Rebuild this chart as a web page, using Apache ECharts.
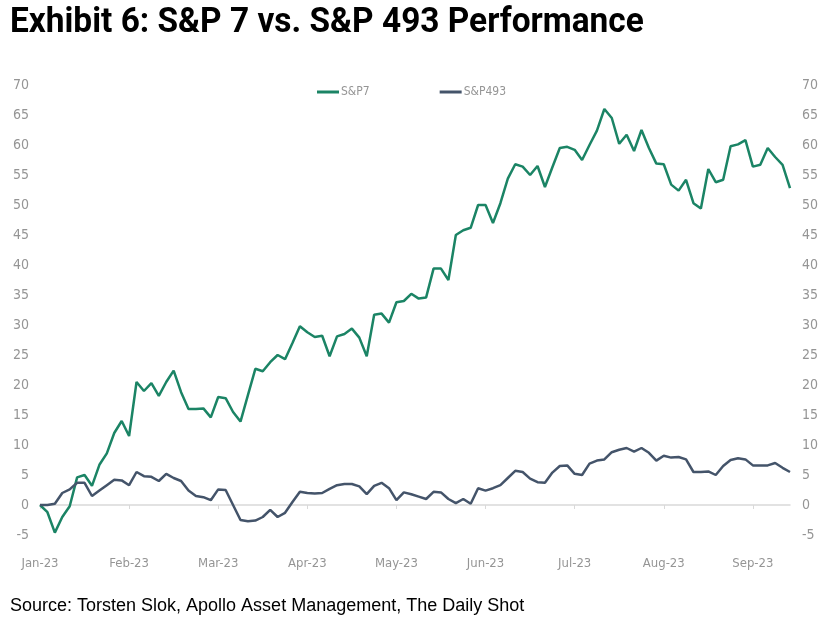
<!DOCTYPE html>
<html>
<head>
<meta charset="utf-8">
<script src="https://cdn.jsdelivr.net/npm/echarts@6/dist/echarts.min.js"></script>
<style>
   html, body { margin: 0; padding: 0; background: #fff; }
   #chartWrapper { width: 829px; height: 619px; }
</style>
</head>
<body>
<div id="chartWrapper"></div>
<script>
// month tick labels, one every 12 sample points
var months = ['Jan-23', 'Feb-23', 'Mar-23', 'Apr-23', 'May-23', 'Jun-23', 'Jul-23', 'Aug-23', 'Sep-23'];
var perMonth = 12;

// cumulative performance (%)
var sp7 = [
   0, -1.2, -4.6, -2.0, -0.2, 4.6, 5.0, 3.2, 6.7, 8.6,
   12.0, 14.0, 11.5, 20.5, 19.0, 20.3, 18.2, 20.5, 22.4, 18.8,
   16.0, 16.0, 16.1, 14.6, 18.0, 17.8, 15.5, 13.9, 18.3, 22.7,
   22.3, 23.8, 25.0, 24.3, 27.0, 29.8, 28.8, 28.0, 28.2, 24.8,
   28.1, 28.5, 29.4, 27.9, 24.8, 31.7, 31.9, 30.4, 33.8, 34.0,
   35.2, 34.4, 34.6, 39.4, 39.4, 37.5, 45.0, 45.8, 46.2, 50.0,
   50.0, 47.0, 50.3, 54.4, 56.8, 56.4, 55.0, 56.5, 53.0, 56.3,
   59.5, 59.7, 59.2, 57.5, 60.0, 62.4, 66.0, 64.5, 60.2, 61.7,
   59.0, 62.5, 59.5, 56.9, 56.8, 53.4, 52.4, 54.2, 50.3, 49.4,
   56.0, 53.8, 54.2, 59.8, 60.1, 60.8, 56.4, 56.7, 59.5, 58.0,
   56.7, 52.8
];
var sp493 = [
   0, 0, 0.2, 2.0, 2.6, 3.7, 3.7, 1.5, 2.4, 3.3,
   4.2, 4.1, 3.3, 5.5, 4.8, 4.7, 4.0, 5.2, 4.5, 4.0,
   2.4, 1.5, 1.3, 0.8, 2.6, 2.5, 0, -2.5, -2.7, -2.6,
   -2.0, -0.8, -2.0, -1.3, 0.5, 2.2, 2.0, 1.9, 2.0, 2.7,
   3.3, 3.5, 3.5, 3.1, 1.8, 3.2, 3.7, 2.8, 0.8, 2.1,
   1.8, 1.4, 1.0, 2.2, 2.1, 1.0, 0.3, 1.0, 0.2, 2.8,
   2.4, 2.8, 3.3, 4.5, 5.7, 5.5, 4.4, 3.8, 3.7, 5.4,
   6.5, 6.6, 5.2, 5.0, 6.9, 7.4, 7.6, 8.8, 9.2, 9.5,
   8.9, 9.5, 8.7, 7.4, 8.2, 7.9, 8.0, 7.6, 5.5, 5.5,
   5.6, 5.0, 6.5, 7.5, 7.8, 7.6, 6.6, 6.6, 6.6, 7.0,
   6.2, 5.5
];

var green = '#1b8465';
var navy = '#44546a';
var axisGrey = '#959595';
var narrow = '"DejaVu Sans Condensed", "Liberation Sans", sans-serif';

var categories = [];
for(var i = 0; i < sp7.length; i++) {
   categories.push(i % perMonth === 0 ? months[i / perMonth] : '');
}

var isMonthStart = function(idx) {
   return idx % perMonth === 0;
};

var iChart = echarts.init(document.getElementById('chartWrapper'));

var option = {
   backgroundColor: '#fff',
   animation: false,
   graphic: [{
      type: 'text',
      x: 10,
      y: 6,
      scaleX: 0.955,
      style: {
         text: 'Exhibit 6: S&P 7 vs. S&P 493 Performance',
         font: 'bold 35px Roboto, "Liberation Sans", sans-serif',
         fill: '#000'
      }
   }, {
      type: 'text',
      x: 10,
      y: 597,
      style: {
         text: 'Source: Torsten Slok, Apollo Asset Management, The Daily Shot',
         font: '18px "Liberation Sans", sans-serif',
         fill: '#000'
      }
   }],
   legend: {
      data: ['S&P7', 'S&P493'],
      left: 312,
      top: 81,
      itemWidth: 22,
      itemHeight: 3,
      itemGap: 70,
      icon: 'rect',
      textStyle: {
         fontFamily: narrow,
         fontSize: 12,
         color: axisGrey,
         padding: [0, 0, 0, -3]
      }
   },
   grid: {
      left: 40,
      right: 39,
      top: 85,
      bottom: 84
   },
   xAxis: [{
      type: 'category',
      data: categories,
      boundaryGap: false,
      position: 'bottom',
      axisLine: { show: false, onZero: false },
      axisTick: { show: false },
      axisLabel: {
         interval: 0,
         margin: 22,
         fontFamily: narrow,
         fontSize: 13,
         color: axisGrey
      },
      splitLine: { show: false }
   }, {
      type: 'category',
      data: categories,
      boundaryGap: false,
      position: 'bottom',
      axisLine: { show: true, onZero: true, onZeroAxisIndex: 0, lineStyle: { color: '#d9d9d9', width: 1.5 } },
      axisTick: { show: true, interval: isMonthStart, length: 4, lineStyle: { color: '#d9d9d9' } },
      axisLabel: { show: false },
      splitLine: { show: false }
   }],
   yAxis: [{
      type: 'value',
      min: -5,
      max: 70,
      interval: 5,
      position: 'left',
      axisLine: { show: false },
      axisTick: { show: false },
      splitLine: { show: false },
      axisLabel: {
         margin: 11,
         fontFamily: narrow,
         fontSize: 14,
         color: axisGrey
      }
   }, {
      type: 'value',
      min: -5,
      max: 70,
      interval: 5,
      position: 'right',
      axisLine: { show: false },
      axisTick: { show: false },
      splitLine: { show: false },
      axisLabel: {
         margin: 12,
         fontFamily: narrow,
         fontSize: 14,
         color: axisGrey
      }
   }],
   series: [{
      name: 'S&P7',
      type: 'line',
      data: sp7,
      showSymbol: false,
      symbol: 'none',
      lineStyle: { color: green, width: 2.5 },
      itemStyle: { color: green }
   }, {
      name: 'S&P493',
      type: 'line',
      data: sp493,
      showSymbol: false,
      symbol: 'none',
      lineStyle: { color: navy, width: 2.5 },
      itemStyle: { color: navy }
   }]
};

iChart.setOption(option);
</script>
</body>
</html>
